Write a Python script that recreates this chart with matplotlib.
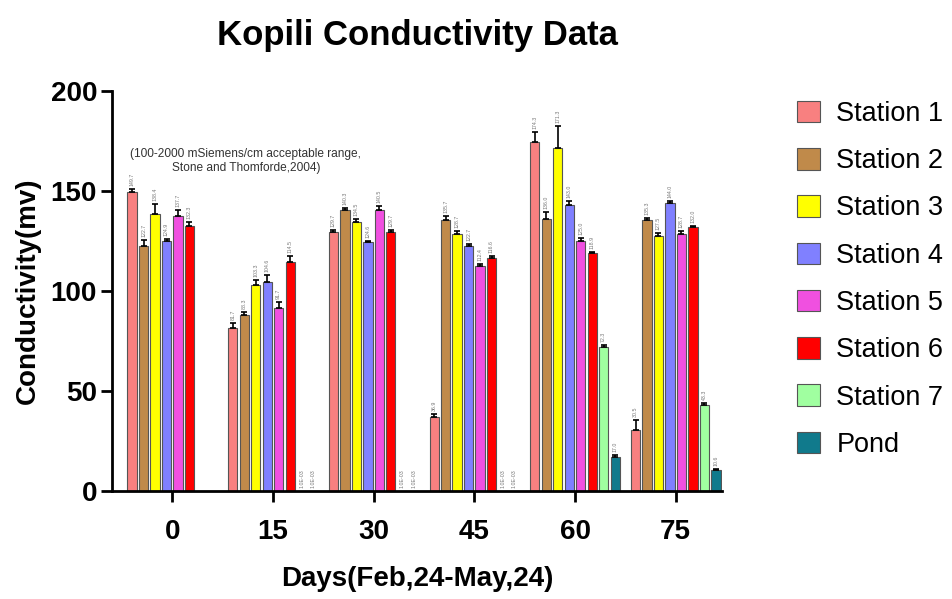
import numpy as np
import matplotlib
matplotlib.use("Agg")
import matplotlib.pyplot as plt

plt.rcParams['font.family'] = ['Liberation Sans', 'DejaVu Sans']

days = ["0", "15", "30", "45", "60", "75"]
stations = ["Station 1", "Station 2", "Station 3", "Station 4",
            "Station 5", "Station 6", "Station 7", "Pond"]
colors = ["#F88080", "#C08A4A", "#FFFF00", "#8080FF",
          "#F050E0", "#FF0000", "#A0FFA0", "#107A8C"]

# mean conductivity per sampling day (nan = not sampled)
s1 = [149.7, 81.7, 129.7, 36.9, 174.3, 30.5]
s2 = [122.7, 88.3, 140.3, 135.7, 136.0, 135.3]
s3 = [138.4, 103.3, 134.5, 128.7, 171.3, 127.5]
s4 = [124.9, 104.6, 124.6, 122.7, 143.0, 144.0]
s5 = [137.7, 91.7, 140.5, 112.4, 125.0, 128.7]
s6 = [132.3, 114.5, 129.7, 116.6, 118.9, 132.0]
s7 = [np.nan, 0.001, 0.001, 0.001, 72.3, 43.3]
pond = [np.nan, 0.001, 0.001, 0.001, 17.0, 10.6]

# standard deviations
s1_err = [1.5, 2.5, 1.0, 1.5, 5.0, 5.0]
s2_err = [3.0, 1.5, 1.0, 2.0, 3.5, 1.0]
s3_err = [5.0, 2.5, 1.5, 1.5, 11.0, 1.5]
s4_err = [1.0, 3.5, 0.5, 1.0, 2.0, 1.0]
s5_err = [3.0, 3.0, 2.0, 1.0, 1.5, 1.5]
s6_err = [2.0, 3.0, 1.0, 1.0, 0.5, 0.5]
s7_err = [0.0, 0.0, 0.0, 0.0, 1.0, 1.0]
pond_err = [0.0, 0.0, 0.0, 0.0, 1.0, 0.5]

values = [s1, s2, s3, s4, s5, s6, s7, pond]
errors = [s1_err, s2_err, s3_err, s4_err, s5_err, s6_err, s7_err, pond_err]

fig = plt.figure(figsize=(9.52, 5.99), dpi=100)
ax = fig.add_axes([0.118, 0.180, 0.640, 0.668])

x = np.arange(len(days))
step = 0.114
width = 0.092
for i, (vals, errs) in enumerate(zip(values, errors)):
    pos = x + (i - 3.5) * step
    vals = np.array(vals, dtype=float)
    errs = np.array(errs, dtype=float)
    ax.bar(pos, vals, width, color=colors[i], edgecolor="#555555",
           linewidth=0.8, label=stations[i], zorder=2)
    ok = ~np.isnan(vals) & (errs > 0)
    ax.errorbar(pos[ok], vals[ok], yerr=[np.zeros(ok.sum()), errs[ok]],
                fmt="none", ecolor="black", elinewidth=1.2, capsize=2,
                capthick=1.2, zorder=3)
    for p, v, e in zip(pos, vals, errs):
        if np.isnan(v):
            continue
        txt = f"{v:.1E}" if v < 0.01 else f"{v:.1f}"
        ax.text(p, v + e + 1.5, txt, rotation=90, ha="center", va="bottom",
                fontsize=3.8, color="#777777")

ax.text(0.73, 165, "(100-2000 mSiemens/cm acceptable range,\nStone and Thomforde,2004)",
        ha="center", va="center", fontsize=8.6, color="#333333",
        linespacing=1.2)

ax.set_xlim(-0.595, 5.456)
ax.set_ylim(0, 200)
ax.set_yticks([0, 50, 100, 150, 200])
ax.set_xticks(x)
ax.set_xticklabels(days)
for lab in ax.get_xticklabels() + ax.get_yticklabels():
    lab.set_fontweight("bold")
    lab.set_fontsize(20)
ax.tick_params(axis="x", direction="out", length=8, width=2, pad=12)
ax.tick_params(axis="y", direction="out", length=8, width=2, pad=3)

for side in ["top", "right"]:
    ax.spines[side].set_visible(False)
for side in ["left", "bottom"]:
    ax.spines[side].set_linewidth(2)

ax.set_title("Kopili Conductivity Data", fontsize=25, fontweight="bold", pad=33)
ax.set_ylabel("Conductivity(mv)", fontsize=20, fontweight="bold", labelpad=7)
ax.set_xlabel("Days(Feb,24-May,24)", fontsize=20, fontweight="bold", labelpad=15)

fig.legend(loc="upper left", bbox_to_anchor=(0.826, 0.85), frameon=False,
           fontsize=19.5, handlelength=0.85, handleheight=0.85, labelspacing=0.78,
           handletextpad=0.6, borderaxespad=0)

fig.savefig("out.png", dpi=100)
